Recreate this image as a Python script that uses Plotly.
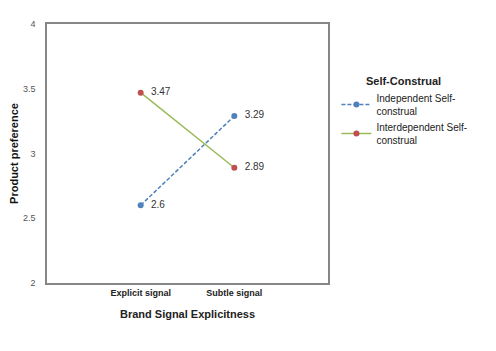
import plotly.graph_objects as go

categories = ["Explicit signal", "Subtle signal"]
independent = [2.6, 3.29]
interdependent = [3.47, 2.89]
series_names = ["Independent Self-<br>construal", "Interdependent Self-<br>construal"]
y_ticks = [2, 2.5, 3, 3.5, 4]
y_tick_labels = ["2", "2.5", "3", "3.5", "4"]

fig = go.Figure()
fig.add_trace(go.Scatter(
    x=[0, 1], y=independent, name=series_names[0],
    mode="lines+markers+text",
    line=dict(color="#4F81BD", width=1.5, dash="4px,2px"),
    marker=dict(color="#4F81BD", size=6),
    text=["  " + str(v) for v in independent], textposition="middle right",
    textfont=dict(family="Liberation Sans", size=10, color="#333333"),
))
fig.add_trace(go.Scatter(
    x=[0, 1], y=interdependent, name=series_names[1],
    mode="lines+markers+text",
    line=dict(color="#9BBB59", width=1.5),
    marker=dict(color="#C0504D", size=6),
    text=["  " + str(v) for v in interdependent], textposition="middle right",
    textfont=dict(family="Liberation Sans", size=10, color="#333333"),
))

fig.update_layout(
    width=496, height=351,
    margin=dict(l=47, r=168, t=24, b=68),
    paper_bgcolor="white", plot_bgcolor="white",
    font=dict(family="Liberation Sans", size=9, color="#333333"),
    showlegend=True,
    legend=dict(
        x=1.03, y=0.82, xanchor="left", yanchor="top",
        title=dict(text="&nbsp;&nbsp;&nbsp;&nbsp;&nbsp;&nbsp;&nbsp;&nbsp;&nbsp;<b>Self-Construal</b>",
                   font=dict(size=11, color="#222222"), side="top"),
        font=dict(size=10, color="#222222"),
        tracegroupgap=0, itemwidth=30,
        bgcolor="rgba(0,0,0,0)",
    ),
    xaxis=dict(
        range=[-1, 2], tickmode="array", tickvals=[0, 1],
        ticktext=["<b>" + c + "</b>" for c in categories],
        showgrid=False, zeroline=False, showline=True, mirror=True,
        linecolor="#868686", linewidth=1.5, ticks="",
        tickfont=dict(size=9, color="#222222"),
        title=dict(text="<b>Brand Signal Explicitness</b>", font=dict(size=11, color="#222222"), standoff=14),
    ),
    yaxis=dict(
        range=[2, 4], tickmode="array", tickvals=y_ticks, ticktext=y_tick_labels,
        showgrid=False, zeroline=False, showline=True, mirror=True,
        linecolor="#868686", linewidth=1.5, ticks="", ticklabelstandoff=8,
        tickfont=dict(size=9, color="#555555"),
        title=dict(text="<b>Product preference</b>", font=dict(size=11, color="#111111"), standoff=2),
    ),
)

fig.write_html("out.html")
